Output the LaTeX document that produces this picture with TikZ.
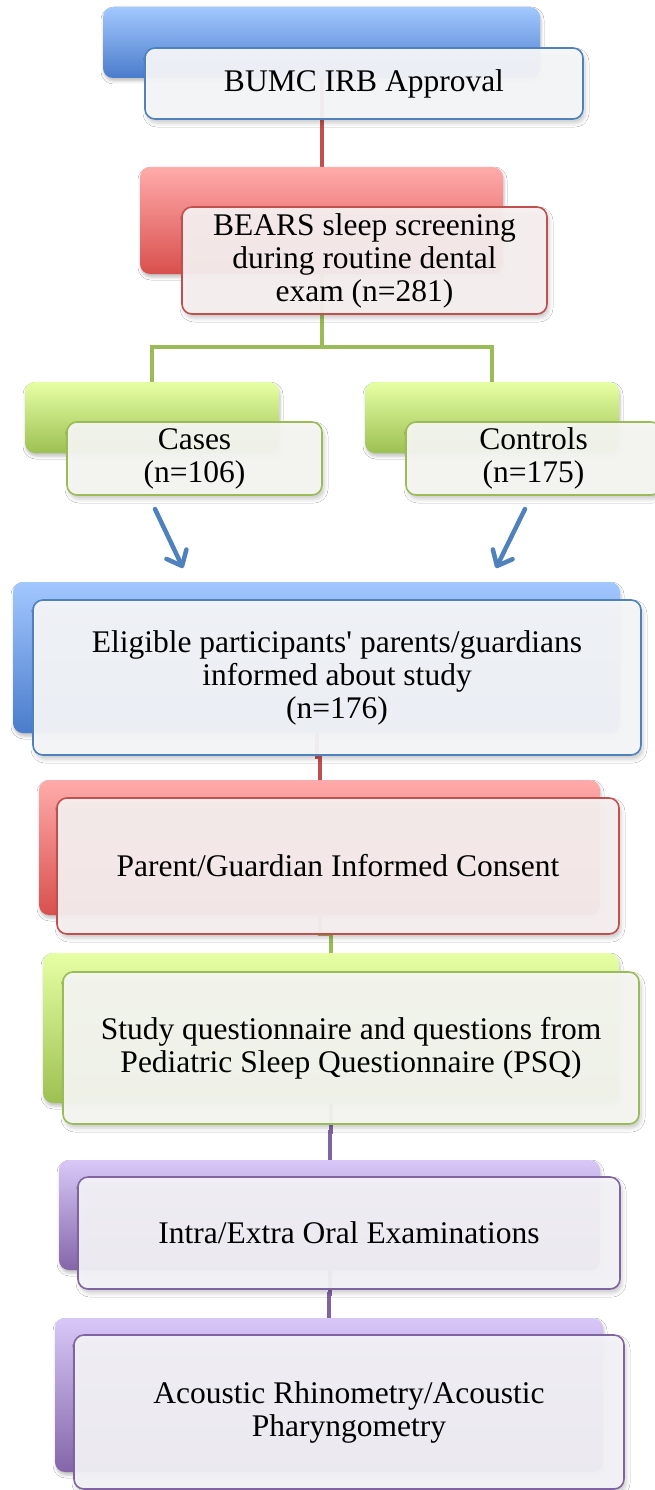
\documentclass[tikz,border=0pt]{standalone}
\usepackage{fontspec}
\setmainfont{Liberation Serif}[Ligatures=TeXOff]
\usetikzlibrary{calc,arrows.meta,shadows.blur}
\definecolor{bluel}{HTML}{A3C8FF}
\definecolor{blued}{HTML}{4A7CCB}
\definecolor{blueb}{HTML}{4F81BD}
\definecolor{redl}{HTML}{FFABAB}
\definecolor{redd}{HTML}{D8504D}
\definecolor{redb}{HTML}{C0504D}
\definecolor{greenl}{HTML}{E6FFA4}
\definecolor{greend}{HTML}{9DC052}
\definecolor{greenb}{HTML}{9BBB59}
\definecolor{purl}{HTML}{D8C8F8}
\definecolor{purd}{HTML}{8466A8}
\definecolor{purb}{HTML}{8064A2}
\definecolor{bluef}{HTML}{F6F7F9}
\definecolor{redf}{HTML}{F7F0F0}
\definecolor{greenf}{HTML}{F6F7F2}
\definecolor{purf}{HTML}{F4F3F7}
\pgfdeclarelayer{bg}
\pgfsetlayers{bg,main}
\begin{document}
\begin{tikzpicture}[x=1pt,y=-1pt,
  backbox/.style 2 args={rounded corners=10pt, top color=#1, bottom color=#2,
    draw=none, inner sep=0pt,
    blur shadow={shadow xshift=1pt, shadow yshift=-3pt, shadow blur radius=3pt, shadow opacity=25}},
  frontbox/.style 2 args={rounded corners=10pt, draw=#1, fill=#2, line width=1.6pt,
    fill opacity=0.94, text opacity=1, align=center, inner sep=2pt,
    font=\fontsize{31.5}{33}\selectfont,
    blur shadow={shadow xshift=2pt, shadow yshift=-4pt, shadow blur radius=4pt, shadow opacity=22}},
  conn/.style={line width=4pt, draw=#1},
  elbow/.style={to path={(\tikztostart) |- ($(\tikztostart)!.5!(\tikztotarget)$) -| (\tikztotarget)}},
  arr/.style={draw=blueb, line width=4.5pt, line cap=round,
    -{Straight Barb[length=13pt, width=22pt, line cap=round, line join=round]}}
]
\useasboundingbox (0,0) rectangle (655,1490);

% 1 BUMC
\node[backbox={bluel}{blued}, minimum width=437pt, minimum height=71pt] (b1) at (321.5,42.5) {};
\node[frontbox={blueb}{bluef}, minimum width=438pt, minimum height=71pt] (f1) at (364,83.5) {BUMC IRB Approval};

% 2 BEARS
\node[backbox={redl}{redd}, minimum width=363pt, minimum height=107pt] (b2) at (321.5,220.5) {};
\node[frontbox={redb}{redf}, minimum width=365pt, minimum height=107pt] (f2) at (364.5,260.5) {BEARS sleep screening\\during routine dental\\exam (n=281)};

% 3 Cases
\node[backbox={greenl}{greend}, minimum width=254pt, minimum height=71pt] (b3) at (152,417.5) {};
\node[frontbox={greenb}{greenf}, minimum width=255pt, minimum height=73pt] (f3) at (194.5,458.5) {Cases\\(n=106)};

% 4 Controls
\node[backbox={greenl}{greend}, minimum width=254pt, minimum height=71pt] (b4) at (492,417.5) {};
\node[frontbox={greenb}{greenf}, minimum width=255pt, minimum height=73pt] (f4) at (533.5,458.5) {Controls\\(n=175)};

% 5 Eligible
\node[backbox={bluel}{blued}, minimum width=607pt, minimum height=151pt] (b5) at (316.5,657.5) {};
\node[frontbox={blueb}{bluef}, minimum width=608pt, minimum height=155pt] (f5) at (337,677.5) {Eligible participants' parents/guardians\\informed about study\\(n=176)};

% 6 Parent
\node[backbox={redl}{redd}, minimum width=561pt, minimum height=135pt] (b6) at (319.5,847.5) {};
\node[frontbox={redb}{redf}, minimum width=562pt, minimum height=136pt] (f6) at (338,866) {Parent/Guardian Informed Consent};

% 7 Study
\node[backbox={greenl}{greend}, minimum width=576pt, minimum height=150pt] (b7) at (331,1028) {};
\node[frontbox={greenb}{greenf}, minimum width=576pt, minimum height=152pt] (f7) at (351,1048) {Study questionnaire and questions from\\Pediatric Sleep Questionnaire (PSQ)};

% 8 Intra
\node[backbox={purl}{purd}, minimum width=541pt, minimum height=110pt] (b8) at (329.5,1215) {};
\node[frontbox={purb}{purf}, minimum width=542pt, minimum height=112pt] (f8) at (349,1233) {Intra/Extra Oral Examinations};

% 9 Acoustic
\node[backbox={purl}{purd}, minimum width=548pt, minimum height=154pt] (b9) at (329,1395) {};
\node[frontbox={purb}{purf}, minimum width=550pt, minimum height=154pt] (f9) at (349,1412) {Acoustic Rhinometry/Acoustic\\Pharyngometry};

% arrows
\coordinate (a1s) at (155,509);
\coordinate (a1e) at (183,568);
\coordinate (a2s) at (525,509);
\coordinate (a2e) at (496,568);
\draw[arr] (a1s) -- (a1e);
\draw[arr] (a2s) -- (a2e);

\begin{pgfonlayer}{bg}
\fill[white] (0,0) rectangle (655,1490);
\draw[conn=redb] (b1.south) -- (b2.north);
\draw[conn=greenb] (b2.south) -- ++(0,73) -| (b3.north);
\draw[conn=greenb] (b2.south) -- ++(0,73) -| (b4.north);
\draw[conn=redb] (b5.south) to[elbow] (b6.north);
\draw[conn=greenb] (b6.south) to[elbow] (b7.north);
\draw[conn=purb] (b7.south) to[elbow] (b8.north);
\draw[conn=purb] (b8.south) to[elbow] (b9.north);
\end{pgfonlayer}
\end{tikzpicture}
\end{document}
